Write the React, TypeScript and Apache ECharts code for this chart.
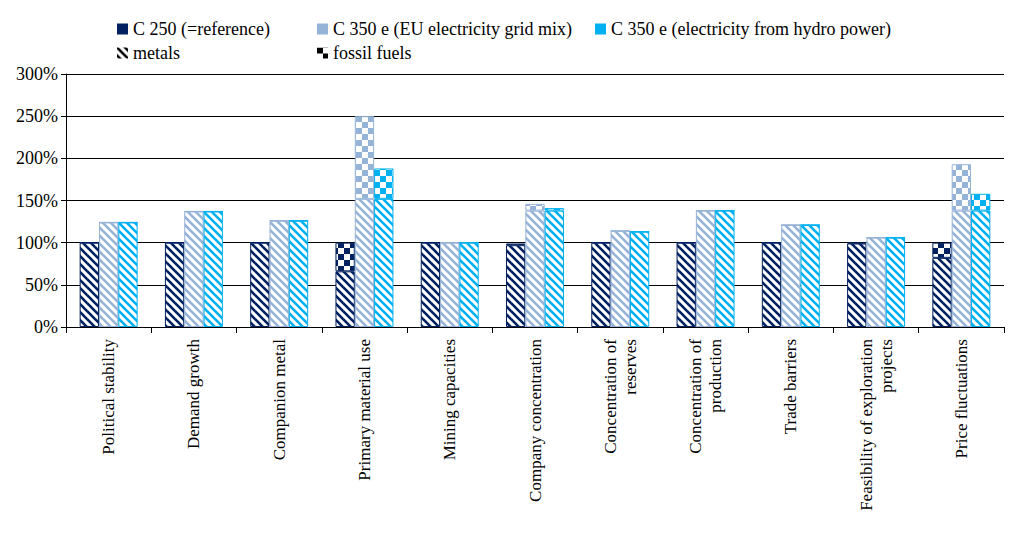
import React, { useEffect, useRef } from "react";
import * as echarts from "echarts";

const CATEGORIES = [
  "Political stability",
  "Demand growth",
  "Companion metal",
  "Primary material use",
  "Mining capacities",
  "Company concentration",
  "Concentration of\nreserves",
  "Concentration of\nproduction",
  "Trade barriers",
  "Feasibility of exploration\nprojects",
  "Price fluctuations",
];

const REF_METALS = [100, 100, 100, 66, 100, 97, 100, 100, 100, 99, 82];
const REF_FOSSIL = [0, 0, 0, 34, 0, 2, 0, 0, 0, 1, 18];
const EU_METALS = [124, 137, 126, 152, 100, 138, 114, 138, 121, 106, 138];
const EU_FOSSIL = [0, 0, 0, 98, 0, 8, 0, 0, 0, 0, 55];
const HYDRO_METALS = [124, 137, 126, 152, 100, 138, 113, 138, 121, 106, 138];
const HYDRO_FOSSIL = [0, 0, 0, 36, 0, 3, 0, 0, 0, 0, 20];

const Y_TICKS = [0, 50, 100, 150, 200, 250, 300];

const NAVY = "#002060";
const GREY_BLUE = "#95B3D7";
const CYAN = "#00B0F0";
const FONT = "'Liberation Serif', 'Times New Roman', serif";

const stripes = (color: string) => {
  const c = document.createElement("canvas");
  c.width = 8;
  c.height = 8;
  const g = c.getContext("2d")!;
  g.fillStyle = "#fff";
  g.fillRect(0, 0, 8, 8);
  g.strokeStyle = color;
  g.lineWidth = 2.6;
  for (let k = -8; k <= 8; k += 8) {
    g.beginPath();
    g.moveTo(k - 2, -2);
    g.lineTo(k + 10, 10);
    g.stroke();
  }
  return { image: c, repeat: "repeat" as const };
};

const checker = (color: string) => {
  const c = document.createElement("canvas");
  c.width = 12;
  c.height = 12;
  const g = c.getContext("2d")!;
  g.fillStyle = "#fff";
  g.fillRect(0, 0, 12, 12);
  g.fillStyle = color;
  g.fillRect(0, 0, 6, 6);
  g.fillRect(6, 6, 6, 6);
  return { image: c, repeat: "repeat" as const };
};

const App: React.FC = () => {
  const ref = useRef<HTMLDivElement | null>(null);

  useEffect(() => {
    if (!ref.current) return;
    const chart = echarts.init(ref.current, undefined, { renderer: "svg" });

    const bar = (name: string, data: number[], stack: string, color: string, fossil: boolean) => ({
      name,
      type: "bar" as const,
      stack,
      data,
      barGap: "0%",
      barCategoryGap: "32%",
      itemStyle: {
        color: fossil ? checker(color) : stripes(color),
        borderColor: color,
        borderWidth: 1,
      },
      emphasis: { disabled: true },
    });

    const dummy = (name: string, color: any) => ({
      name,
      type: "line" as const,
      data: [],
      itemStyle: { color },
      lineStyle: { color },
    });

    const legendAt = (name: string, left: number, top: number) => ({
      data: [{ name, icon: "rect" }],
      left,
      top,
      itemWidth: 11,
      itemHeight: 11,
      itemGap: 4,
      textStyle: { fontFamily: FONT, fontSize: 18, color: "#000" },
      selectedMode: false,
    });

    chart.setOption({
      animation: false,
      textStyle: { fontFamily: FONT },
      legend: [
        legendAt("C 250 (=reference)", 104, 7),
        legendAt("C 350 e (EU electricity grid mix)", 304, 7),
        legendAt("C 350 e (electricity from hydro power)", 582, 7),
        legendAt("metals", 104, 31),
        legendAt("fossil fuels", 304, 31),
      ],
      grid: { left: 58, right: 12, top: 66, bottom: 212 },
      xAxis: {
        type: "category",
        data: CATEGORIES,
        axisLine: { lineStyle: { color: "#000" } },
        axisTick: { show: true, lineStyle: { color: "#000" }, length: 6 },
        axisLabel: {
          rotate: 90,
          interval: 0,
          fontFamily: FONT,
          fontSize: 17,
          color: "#000",
          lineHeight: 20,
          margin: 12,
        },
      },
      yAxis: {
        type: "value",
        min: 0,
        max: 300,
        interval: 50,
        axisLine: { show: true, lineStyle: { color: "#000" } },
        axisTick: { show: true, lineStyle: { color: "#000" } },
        splitLine: { lineStyle: { color: "#000", width: 1 } },
        axisLabel: {
          fontFamily: FONT,
          fontSize: 18,
          color: "#000",
          formatter: (v: number) => (Y_TICKS.includes(v) ? `${v}%` : ""),
        },
      },
      series: [
        bar("ref-metals", REF_METALS, "ref", NAVY, false),
        bar("ref-fossil", REF_FOSSIL, "ref", NAVY, true),
        bar("eu-metals", EU_METALS, "eu", GREY_BLUE, false),
        bar("eu-fossil", EU_FOSSIL, "eu", GREY_BLUE, true),
        bar("hydro-metals", HYDRO_METALS, "hydro", CYAN, false),
        bar("hydro-fossil", HYDRO_FOSSIL, "hydro", CYAN, true),
        dummy("C 250 (=reference)", NAVY),
        dummy("C 350 e (EU electricity grid mix)", GREY_BLUE),
        dummy("C 350 e (electricity from hydro power)", CYAN),
        dummy("metals", stripes("#000")),
        dummy("fossil fuels", checker("#000")),
      ],
    });

    return () => chart.dispose();
  }, []);

  return (
    <div
      ref={ref}
      style={{ width: "1008px", height: "531px", background: "#fff" }}
    />
  );
};

export default App;
